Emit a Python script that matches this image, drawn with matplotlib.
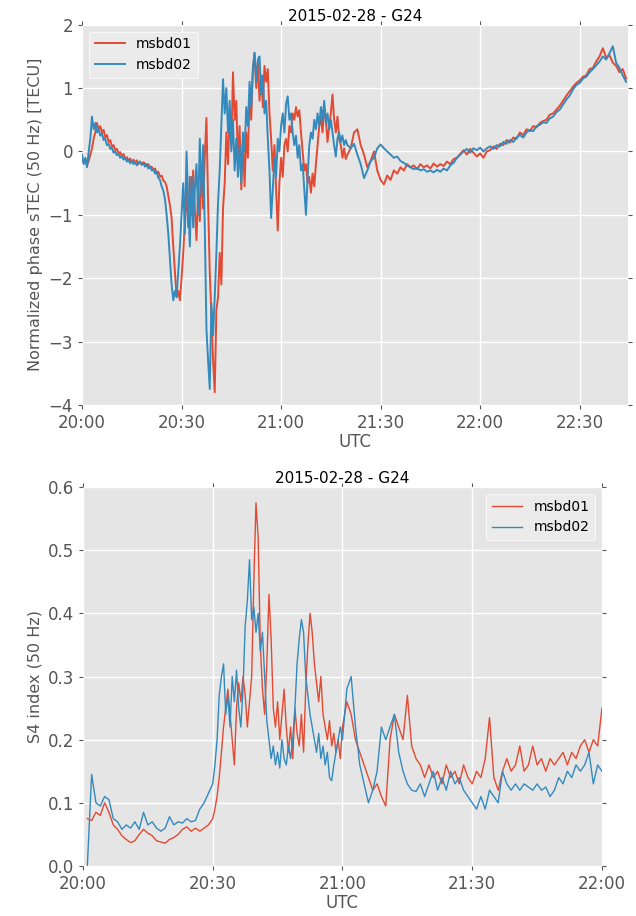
import numpy as np
import matplotlib
matplotlib.use('Agg')
import matplotlib.pyplot as plt
import matplotlib.dates as mdates

plt.style.use('ggplot')

title = '2015-02-28 - G24'
labels = ['msbd01', 'msbd02']
colors = ['#E24A33', '#348ABD']

# top panel: normalized phase sTEC, minutes after 20:00
# segments: 0-24.5 (0.5 min), 25-79.5 (0.5 min), 80-164 (1 min)
tec01_a = [-0.1, -0.18, -0.12, -0.22, -0.15, -0.05, 0.05, 0.2, 0.3, 0.45,
           0.35, 0.4, 0.3, 0.34, 0.22, 0.26, 0.15, 0.18, 0.08, 0.1,
           0.02, 0.04, -0.03, -0.01, -0.08, -0.04, -0.12, -0.09, -0.15, -0.11,
           -0.17, -0.13, -0.18, -0.14, -0.2, -0.16, -0.21, -0.17, -0.19, -0.23,
           -0.2, -0.26, -0.24, -0.3, -0.27, -0.34, -0.32, -0.4, -0.38, -0.46]
tec02_a = [-0.05, -0.2, -0.1, -0.25, 0.0, 0.2, 0.55, 0.35, 0.45, 0.3,
           0.35, 0.25, 0.28, 0.18, 0.2, 0.1, 0.12, 0.04, 0.06, -0.02,
           0.0, -0.06, -0.04, -0.1, -0.07, -0.13, -0.1, -0.16, -0.13, -0.19,
           -0.15, -0.2, -0.17, -0.22, -0.18, -0.16, -0.21, -0.19, -0.24, -0.2,
           -0.27, -0.24, -0.3, -0.28, -0.35, -0.33, -0.42, -0.45, -0.55, -0.62]

tec01_b = [-0.48, -0.55, -0.7, -0.85, -1.05, -1.5, -1.9, -2.3, -2.2, -2.35,
           -2.0, -1.6, -1.1, -0.6, -1.2, -0.4, -1.0, -0.3, -0.9, -1.4,
           -0.6, -1.1, -0.2, -0.9, -0.1, 0.53, -0.8, -1.9, -2.6, -3.3,
           -3.8, -2.5, -2.3, -1.6, -2.1, -0.9, -0.5, 0.3, -0.2, 0.6,
           0.1, 1.25, 0.5, 0.8, -0.2, 0.4, -0.6, 0.2, -0.55, 0.3,
           -0.1, 0.9, 0.5, 1.3, 1.55, 1.0, 1.4, 0.8, 1.2, 0.7,
           1.35, 1.1, 1.3, 0.6, 0.2, -0.3, 0.1, -0.6, -1.25, -0.5,
           -0.1, -0.4, 0.1, 0.2, 0.0, 0.4, 0.3, 0.6, 0.5, 0.7,
           0.55, 0.65, 0.3, 0.0, -0.3, -0.2, -0.5, -0.4, -0.65, -0.35,
           -0.55, -0.2, 0.1, 0.4, 0.55, 0.3, 0.7, 0.5, 0.15, 0.4,
           0.6, 0.9, 0.5, 0.3, 0.55, 0.2, 0.1, -0.1, 0.05, -0.12]
tec02_b = [-0.75, -1.0, -1.3, -1.7, -2.1, -2.35, -2.2, -2.3, -1.9, -1.5,
           -1.0, -0.5, -1.3, 0.0, -0.8, -1.5, -0.4, -1.2, -0.6, -0.2,
           -1.0, 0.2, -0.7, 0.1, -1.2, -2.8, -3.3, -3.75, -2.4, -2.9,
           -2.3, -1.6, -0.8, -0.3, 0.4, 1.14, 0.6, 1.0, 0.3, 0.8,
           0.0, 0.5, -0.3, 0.2, -0.4, 0.1, -0.5, 0.3, 0.0, 0.7,
           0.4, 1.1, 0.7, 1.3, 1.56, 1.1, 1.45, 1.5, 0.9, 1.2,
           0.6, 0.8, 0.2, -0.3, -1.05, -0.6, -0.1, -0.4, 0.2, 0.0,
           0.4, 0.6, 0.3, 0.75, 0.87, 0.5, 0.6, 0.3, 0.1, 0.25,
           -0.1, 0.1, -0.3, -0.2, -0.6, -1.0, -0.4, 0.1, 0.3, 0.2,
           0.5, 0.35, 0.6, 0.4, 0.7, 0.5, 0.8, 0.45, 0.6, 0.35,
           0.5, 0.3, 0.1, -0.08, 0.2, 0.3, 0.15, 0.25, 0.1, 0.18]

tec01_c = [-0.05, 0.05, 0.3, 0.35, 0.1, -0.05, -0.25, -0.15, 0.0, -0.3,
           -0.45, -0.52, -0.38, -0.45, -0.3, -0.35, -0.25, -0.3, -0.2, -0.25,
           -0.22, -0.28, -0.2, -0.25, -0.22, -0.27, -0.19, -0.24, -0.2, -0.23,
           -0.16, -0.2, -0.12, -0.1, -0.04, 0.02, -0.05, 0.04, -0.02, -0.08,
           -0.03, -0.1, 0.0, 0.02, 0.08, 0.04, 0.12, 0.1, 0.18, 0.14,
           0.22, 0.2, 0.3, 0.26, 0.35, 0.32, 0.4, 0.38, 0.45, 0.48,
           0.5, 0.58, 0.6, 0.66, 0.72, 0.8, 0.88, 0.95, 1.02, 1.08,
           1.12, 1.18, 1.2, 1.3, 1.32, 1.42, 1.5, 1.63, 1.48, 1.52,
           1.4, 1.35, 1.25, 1.3, 1.15]
tec02_c = [0.1, 0.05, 0.12, -0.05, -0.2, -0.42, -0.3, -0.15, -0.1, 0.05,
           0.11, 0.05, 0.0, -0.05, -0.1, -0.08, -0.15, -0.18, -0.22, -0.25,
           -0.28, -0.26, -0.3, -0.28, -0.32, -0.3, -0.33, -0.29, -0.32, -0.27,
           -0.3, -0.22, -0.18, -0.1, -0.05, 0.0, 0.04, -0.02, 0.05, 0.02,
           0.06, 0.0, 0.05, 0.08, 0.04, 0.1, 0.08, 0.15, 0.12, 0.18,
           0.15, 0.22, 0.26, 0.22, 0.3, 0.34, 0.32, 0.4, 0.42, 0.46,
           0.45, 0.52, 0.55, 0.62, 0.66, 0.74, 0.82, 0.88, 0.98, 1.05,
           1.08, 1.15, 1.18, 1.25, 1.3, 1.36, 1.42, 1.5, 1.45, 1.55,
           1.66, 1.4, 1.32, 1.2, 1.1]

# bottom panel: S4 index
# segments: 1-29 (1 min), 30-59.5 (0.5 min), 60-120 (1 min)
s401_a = [0.075, 0.072, 0.085, 0.08, 0.1, 0.085, 0.065, 0.058, 0.048, 0.042,
          0.037, 0.04, 0.05, 0.058, 0.052, 0.048, 0.04, 0.038, 0.036, 0.042,
          0.045, 0.05, 0.058, 0.062, 0.055, 0.06, 0.055, 0.06, 0.065]
s402_a = [0.0, 0.145, 0.1, 0.095, 0.11, 0.105, 0.075, 0.07, 0.058, 0.065,
          0.06, 0.07, 0.058, 0.085, 0.065, 0.07, 0.06, 0.055, 0.06, 0.078,
          0.065, 0.07, 0.068, 0.075, 0.07, 0.072, 0.09, 0.1, 0.115]

s401_b = [0.075, 0.09, 0.11, 0.14, 0.18, 0.22, 0.25, 0.28, 0.24, 0.2,
          0.16, 0.25, 0.29, 0.26, 0.3, 0.27, 0.22, 0.26, 0.3, 0.45,
          0.575, 0.52, 0.35, 0.28, 0.24, 0.32, 0.43, 0.36, 0.25, 0.22,
          0.26, 0.2, 0.24, 0.28, 0.22, 0.18, 0.22, 0.17, 0.25, 0.21,
          0.19, 0.24, 0.18, 0.28, 0.35, 0.4, 0.37, 0.32, 0.29, 0.26,
          0.3, 0.24, 0.22, 0.2, 0.23, 0.19, 0.21, 0.18, 0.2, 0.17]
s402_b = [0.13, 0.16, 0.2, 0.27, 0.3, 0.32, 0.24, 0.27, 0.22, 0.3,
          0.26, 0.31, 0.25, 0.22, 0.28, 0.38, 0.42, 0.485, 0.39, 0.41,
          0.37, 0.4, 0.34, 0.37, 0.3, 0.23, 0.2, 0.17, 0.19, 0.16,
          0.18, 0.155, 0.2, 0.17, 0.16, 0.19, 0.17, 0.2, 0.25, 0.32,
          0.36, 0.39, 0.37, 0.3, 0.27, 0.24, 0.22, 0.2, 0.18, 0.21,
          0.17, 0.19, 0.16, 0.18, 0.14, 0.135, 0.16, 0.18, 0.2, 0.22]

s401_c = [0.22, 0.26, 0.24, 0.2, 0.18, 0.16, 0.14, 0.12, 0.13, 0.11,
          0.095, 0.2, 0.24, 0.22, 0.2, 0.27, 0.19, 0.17, 0.16, 0.14,
          0.16, 0.14, 0.15, 0.13, 0.16, 0.14, 0.15, 0.13, 0.16, 0.14,
          0.13, 0.15, 0.14, 0.17, 0.235, 0.14, 0.12, 0.15, 0.17, 0.15,
          0.16, 0.19, 0.15, 0.16, 0.19, 0.16, 0.17, 0.15, 0.17, 0.16,
          0.17, 0.18, 0.16, 0.18, 0.17, 0.19, 0.2, 0.18, 0.2, 0.19, 0.25]
s402_c = [0.2, 0.28, 0.3, 0.22, 0.16, 0.13, 0.1, 0.12, 0.15, 0.22,
          0.2, 0.22, 0.24, 0.18, 0.15, 0.13, 0.12, 0.118, 0.13, 0.11,
          0.13, 0.15, 0.12, 0.14, 0.12, 0.15, 0.13, 0.14, 0.12, 0.11,
          0.1, 0.09, 0.11, 0.09, 0.12, 0.11, 0.1, 0.15, 0.13, 0.12,
          0.13, 0.12, 0.13, 0.125, 0.12, 0.13, 0.12, 0.125, 0.11, 0.12,
          0.14, 0.13, 0.15, 0.14, 0.16, 0.15, 0.16, 0.18, 0.13, 0.16, 0.15]

t0 = np.datetime64('2015-02-28T20:00:00')


def build(segments):
    # segments: list of (start_min, step_min, values)
    mins, vals = [], []
    for start, step, v in segments:
        mins.append(start + step * np.arange(len(v)))
        vals.append(np.asarray(v, dtype=float))
    mins = np.concatenate(mins)
    times = t0 + (mins * 60).astype('timedelta64[s]')
    return times, np.concatenate(vals)


tec = [build([(0, 0.5, tec01_a), (25, 0.5, tec01_b), (80, 1, tec01_c)]),
       build([(0, 0.5, tec02_a), (25, 0.5, tec02_b), (80, 1, tec02_c)])]
s4 = [build([(1, 1, s401_a), (30, 0.5, s401_b), (60, 1, s401_c)]),
      build([(1, 1, s402_a), (30, 0.5, s402_b), (60, 1, s402_c)])]

fig = plt.figure(figsize=(6.36, 9.16), dpi=100)
fig.patch.set_facecolor('white')
ax1 = fig.add_axes([0.129, 0.558, 0.858, 0.415])
ax2 = fig.add_axes([0.1305, 0.0546, 0.816, 0.4137])


def style(ax):
    ax.set_facecolor('#E5E5E5')
    ax.grid(True, color='white', linewidth=1.0)
    ax.tick_params(top=True, right=True, direction='out', labelsize=12,
                   colors='#555555', length=3)
    ax.xaxis.set_major_locator(mdates.MinuteLocator(byminute=[0, 30]))
    ax.xaxis.set_major_formatter(mdates.DateFormatter('%H:%M'))
    for s in ax.spines.values():
        s.set_visible(False)
    ax.set_xlabel('UTC', fontsize=12, color='#555555', labelpad=1)
    ax.set_title(title, fontsize=11, color='black', pad=3)


for (t, v), c, lab in zip(tec, colors, labels):
    ax1.plot(t, v, color=c, linewidth=1.4, label=lab)
ax1.set_xlim(t0, t0 + np.timedelta64(int(164.5 * 60), 's'))
ax1.set_ylim(-4, 2)
ax1.set_yticks([-4, -3, -2, -1, 0, 1, 2])
ax1.set_yticklabels(['\u22124', '\u22123', '\u22122', '\u22121', '0', '1', '2'])
style(ax1)
ax1.set_ylabel('Normalized phase sTEC (50 Hz) [TECU]', fontsize=11.5, color='#555555')
ax1.legend(loc='upper left', fontsize=10, facecolor='#EBEBEB', edgecolor='white',
           framealpha=1.0, handlelength=2.2)

for (t, v), c, lab in zip(s4, colors, labels):
    ax2.plot(t, v, color=c, linewidth=1.0, label=lab)
ax2.set_xlim(t0, t0 + np.timedelta64(120, 'm'))
ax2.set_ylim(0, 0.6)
ax2.set_yticks([0.0, 0.1, 0.2, 0.3, 0.4, 0.5, 0.6])
ax2.set_yticklabels(['0.0', '0.1', '0.2', '0.3', '0.4', '0.5', '0.6'])
style(ax2)
ax2.set_ylabel('S4 index (50 Hz)', fontsize=11.5, color='#555555')
ax2.legend(loc='upper right', fontsize=10, facecolor='#EBEBEB', edgecolor='white',
           framealpha=1.0, handlelength=2.2)

fig.savefig('out.png', dpi=100)
